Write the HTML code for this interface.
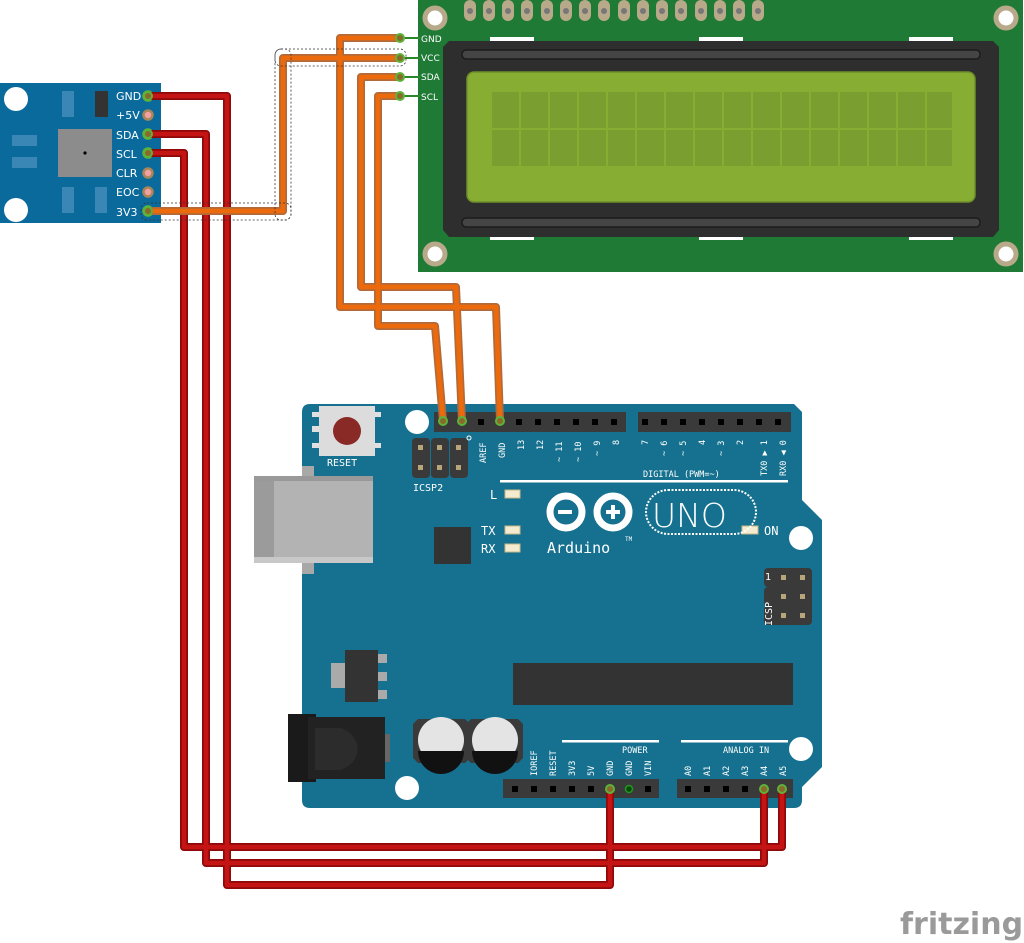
<!DOCTYPE html>
<html><head><meta charset="utf-8"><style>
html,body{margin:0;padding:0;background:#fff;}
svg{display:block;}
text{font-family:"DejaVu Sans Mono","Liberation Mono",monospace;}
.s{font-family:"DejaVu Sans","Liberation Sans",sans-serif;}
</style></head><body>
<svg width="1024" height="943" viewBox="0 0 1024 943" xmlns="http://www.w3.org/2000/svg">
<!-- LCD -->
<rect x="418" y="0" width="605" height="272" fill="#1f7a35"/>
<g fill="#b7a98a">
<rect x="464" y="0" width="12" height="21" rx="6"/><rect x="483" y="0" width="12" height="21" rx="6"/><rect x="502" y="0" width="12" height="21" rx="6"/><rect x="521" y="0" width="12" height="21" rx="6"/><rect x="541" y="0" width="12" height="21" rx="6"/><rect x="560" y="0" width="12" height="21" rx="6"/><rect x="579" y="0" width="12" height="21" rx="6"/><rect x="598" y="0" width="12" height="21" rx="6"/><rect x="618" y="0" width="12" height="21" rx="6"/><rect x="637" y="0" width="12" height="21" rx="6"/><rect x="656" y="0" width="12" height="21" rx="6"/><rect x="675" y="0" width="12" height="21" rx="6"/><rect x="695" y="0" width="12" height="21" rx="6"/><rect x="714" y="0" width="12" height="21" rx="6"/><rect x="733" y="0" width="12" height="21" rx="6"/><rect x="752" y="0" width="12" height="21" rx="6"/>
</g>
<g fill="#777"><circle cx="470" cy="11" r="3"/><circle cx="489" cy="11" r="3"/><circle cx="508" cy="11" r="3"/><circle cx="527" cy="11" r="3"/><circle cx="547" cy="11" r="3"/><circle cx="566" cy="11" r="3"/><circle cx="585" cy="11" r="3"/><circle cx="604" cy="11" r="3"/><circle cx="624" cy="11" r="3"/><circle cx="643" cy="11" r="3"/><circle cx="662" cy="11" r="3"/><circle cx="681" cy="11" r="3"/><circle cx="701" cy="11" r="3"/><circle cx="720" cy="11" r="3"/><circle cx="739" cy="11" r="3"/><circle cx="758" cy="11" r="3"/></g>
<g fill="#fff" stroke="#b7a98a" stroke-width="5"><circle cx="435" cy="18" r="10"/><circle cx="1006" cy="18" r="10"/><circle cx="435" cy="254" r="10"/><circle cx="1006" cy="254" r="10"/></g>
<g fill="#fff"><rect x="490" y="37" width="44" height="4"/><rect x="699" y="37" width="44" height="4"/><rect x="909" y="37" width="44" height="4"/><rect x="490" y="236" width="44" height="4"/><rect x="699" y="236" width="44" height="4"/><rect x="909" y="236" width="44" height="4"/></g>
<path d="M449,41 H993 L999,47 V230 L993,237 H449 L443,230 V47 Z" fill="#2e2e2e"/>
<rect x="462" y="50" width="518" height="9" rx="4" fill="#454545" stroke="#1c1c1c" stroke-width="1.5"/>
<rect x="462" y="218" width="518" height="9" rx="4" fill="#454545" stroke="#1c1c1c" stroke-width="1.5"/>
<rect x="467" y="72" width="508" height="130" rx="7" fill="#88ad33" stroke="#6f8f28" stroke-width="1.5"/>
<g fill="#7a9e30">
<rect x="492" y="92" width="27" height="36"/><rect x="521" y="92" width="27" height="36"/><rect x="550" y="92" width="27" height="36"/><rect x="579" y="92" width="27" height="36"/><rect x="608" y="92" width="27" height="36"/><rect x="637" y="92" width="27" height="36"/><rect x="666" y="92" width="27" height="36"/><rect x="695" y="92" width="27" height="36"/><rect x="724" y="92" width="27" height="36"/><rect x="753" y="92" width="27" height="36"/><rect x="782" y="92" width="27" height="36"/><rect x="811" y="92" width="27" height="36"/><rect x="840" y="92" width="27" height="36"/><rect x="869" y="92" width="27" height="36"/><rect x="898" y="92" width="27" height="36"/><rect x="927" y="92" width="25" height="36"/>
<rect x="492" y="130" width="27" height="36"/><rect x="521" y="130" width="27" height="36"/><rect x="550" y="130" width="27" height="36"/><rect x="579" y="130" width="27" height="36"/><rect x="608" y="130" width="27" height="36"/><rect x="637" y="130" width="27" height="36"/><rect x="666" y="130" width="27" height="36"/><rect x="695" y="130" width="27" height="36"/><rect x="724" y="130" width="27" height="36"/><rect x="753" y="130" width="27" height="36"/><rect x="782" y="130" width="27" height="36"/><rect x="811" y="130" width="27" height="36"/><rect x="840" y="130" width="27" height="36"/><rect x="869" y="130" width="27" height="36"/><rect x="898" y="130" width="27" height="36"/><rect x="927" y="130" width="25" height="36"/>
</g>
<g fill="#fff" font-size="9" class="s"><text x="421" y="42" class="s">GND</text><text x="421" y="61" class="s">VCC</text><text x="421" y="80" class="s">SDA</text><text x="421" y="100" class="s">SCL</text></g>
<g stroke="#2a8a2a" stroke-width="2"><line x1="400" y1="38" x2="420" y2="38"/><line x1="400" y1="58" x2="420" y2="58"/><line x1="400" y1="77" x2="420" y2="77"/><line x1="400" y1="96" x2="420" y2="96"/></g>

<!-- Sensor -->
<rect x="0" y="83" width="161" height="140" fill="#0b6a9c"/>
<circle cx="16" cy="99" r="12" fill="#fff"/><circle cx="16" cy="210" r="12" fill="#fff"/>
<g fill="#3a86b4"><rect x="62" y="91" width="12" height="26"/><rect x="12" y="135" width="25" height="11"/><rect x="12" y="157" width="25" height="11"/><rect x="62" y="187" width="12" height="26"/><rect x="95" y="187" width="12" height="26"/></g>
<rect x="95" y="91" width="13" height="26" fill="#333"/>
<rect x="58" y="129" width="54" height="48" fill="#8c8c8c"/><circle cx="85" cy="153" r="1.6" fill="#000"/>
<g fill="#fff" font-size="11" class="s"><text x="116" y="100" class="s">GND</text><text x="116" y="119" class="s">+5V</text><text x="116" y="139" class="s">SDA</text><text x="116" y="158" class="s">SCL</text><text x="116" y="177" class="s">CLR</text><text x="116" y="196" class="s">EOC</text><text x="116" y="216" class="s">3V3</text></g>
<g stroke="#a8865a" stroke-width="2.5" fill="#f4a0a0"><circle cx="148" cy="115" r="4.5"/><circle cx="148" cy="173" r="4.5"/><circle cx="148" cy="192" r="4.5"/></g>
<g stroke="#5db33a" stroke-width="2.5" fill="#8a6a2a"><circle cx="148" cy="96" r="4.5"/><circle cx="148" cy="134" r="4.5"/><circle cx="148" cy="153" r="4.5"/><circle cx="148" cy="211" r="4.5"/></g>

<!-- Arduino board -->
<path d="M310,404 H794 L802,412 V500 L822,520 V767 L802,787 V800 Q802,808 794,808 H310 Q302,808 302,800 V412 Q302,404 310,404 Z" fill="#15718f"/>
<rect x="302" y="466" width="0" height="0"/>
<!-- USB -->
<rect x="302" y="466" width="12" height="108" fill="#a8a8a8"/>
<rect x="254" y="476" width="119" height="87" fill="#b3b3b3"/>
<rect x="254" y="476" width="20" height="87" fill="#9b9b9b"/>
<rect x="254" y="476" width="119" height="5" fill="#999"/>
<rect x="254" y="557" width="119" height="6" fill="#c8c8c8"/>
<!-- reset -->
<g fill="#e0e0e0"><rect x="312" y="412" width="8" height="5"/><rect x="312" y="426" width="8" height="6"/><rect x="312" y="443" width="8" height="5"/><rect x="373" y="412" width="8" height="5"/><rect x="373" y="443" width="8" height="5"/></g>
<rect x="319" y="406" width="56" height="50" fill="#dcdcdc"/>
<circle cx="347" cy="431" r="14" fill="#8a2a26"/>
<text x="327" y="466" fill="#fff" font-size="10">RESET</text>
<circle cx="417" cy="422" r="12" fill="#fff"/>
<!-- ICSP2 -->
<g fill="#3a3a3a"><rect x="412" y="438" width="18" height="40" rx="4"/><rect x="431" y="438" width="18" height="40" rx="4"/><rect x="450" y="438" width="18" height="40" rx="4"/></g>
<g fill="#b8a57a"><rect x="418" y="445" width="5" height="5"/><rect x="437" y="445" width="5" height="5"/><rect x="456" y="445" width="5" height="5"/><rect x="418" y="465" width="5" height="5"/><rect x="437" y="465" width="5" height="5"/><rect x="456" y="465" width="5" height="5"/></g>
<text x="413" y="491" fill="#fff" font-size="10">ICSP2</text>
<circle cx="469" cy="438" r="2" fill="none" stroke="#fff" stroke-width="1"/>
<!-- top headers -->
<rect x="434" y="412" width="192" height="20" fill="#3a3a3a"/>
<rect x="638" y="412" width="153" height="20" fill="#3a3a3a"/>
<g fill="#000">
<rect x="440" y="419" width="6" height="6"/><rect x="459" y="419" width="6" height="6"/><rect x="478" y="419" width="6" height="6"/><rect x="497" y="419" width="6" height="6"/><rect x="516" y="419" width="6" height="6"/><rect x="535" y="419" width="6" height="6"/><rect x="554" y="419" width="6" height="6"/><rect x="573" y="419" width="6" height="6"/><rect x="592" y="419" width="6" height="6"/><rect x="611" y="419" width="6" height="6"/>
<rect x="642" y="419" width="6" height="6"/><rect x="661" y="419" width="6" height="6"/><rect x="680" y="419" width="6" height="6"/><rect x="699" y="419" width="6" height="6"/><rect x="718" y="419" width="6" height="6"/><rect x="737" y="419" width="6" height="6"/><rect x="756" y="419" width="6" height="6"/><rect x="775" y="419" width="6" height="6"/>
</g>
<g fill="#fff" font-size="8.5">
<text transform="translate(486,463) rotate(-90)">AREF</text>
<text transform="translate(505,458) rotate(-90)">GND</text>
<text transform="translate(524,450) rotate(-90)">13</text>
<text transform="translate(543,450) rotate(-90)">12</text>
<text transform="translate(562,462) rotate(-90)">~ 11</text>
<text transform="translate(581,462) rotate(-90)">~ 10</text>
<text transform="translate(600,456) rotate(-90)">~ 9</text>
<text transform="translate(619,445) rotate(-90)">8</text>
<text transform="translate(648,445) rotate(-90)">7</text>
<text transform="translate(667,456) rotate(-90)">~ 6</text>
<text transform="translate(686,456) rotate(-90)">~ 5</text>
<text transform="translate(705,445) rotate(-90)">4</text>
<text transform="translate(724,456) rotate(-90)">~ 3</text>
<text transform="translate(743,445) rotate(-90)">2</text>
<text transform="translate(767,476) rotate(-90)">TX0 ▶ 1</text>
<text transform="translate(786,476) rotate(-90)">RX0 ◀ 0</text>
<text x="643" y="477">DIGITAL (PWM=~)</text>
</g>
<rect x="500" y="480" width="288" height="2.5" fill="#fff"/>
<!-- LEDs -->
<g fill="#f4ecd0" stroke="#c8b88a"><rect x="505" y="490" width="15" height="8"/><rect x="505" y="526" width="15" height="8"/><rect x="505" y="544" width="15" height="8"/><rect x="742" y="526" width="16" height="8"/></g>
<g fill="#fff" font-size="12"><text x="490" y="499">L</text><text x="481" y="535">TX</text><text x="481" y="553">RX</text><text x="764" y="535">ON</text></g>
<rect x="434" y="527" width="37" height="37" fill="#333"/>
<!-- logo -->
<g fill="none" stroke="#fff" stroke-width="7"><circle cx="566" cy="512" r="16"/><circle cx="613" cy="512" r="16"/></g>
<rect x="558" y="510" width="14" height="4" fill="#fff"/>
<rect x="606" y="510" width="14" height="4" fill="#fff"/><rect x="611" y="505" width="4" height="14" fill="#fff"/>
<rect x="646" y="490" width="110" height="44" rx="22" fill="none" stroke="#fff" stroke-width="2" stroke-dasharray="2 1.5"/>
<text x="652" y="527" fill="#fff" font-size="33" class="s" font-weight="300">UNO</text>
<text x="547" y="553" fill="#fff" font-size="15">Arduino</text><text x="625" y="541" fill="#fff" font-size="6">TM</text>
<circle cx="801" cy="538" r="12" fill="#fff"/>
<!-- ICSP right -->
<g fill="#3a3a3a"><rect x="764" y="568" width="38" height="19" rx="4"/><rect x="764" y="587" width="38" height="19" rx="4"/><rect x="764" y="606" width="38" height="19" rx="4"/></g>
<g fill="#b8a57a"><rect x="781" y="575" width="5" height="5"/><rect x="800" y="575" width="5" height="5"/><rect x="781" y="594" width="5" height="5"/><rect x="800" y="594" width="5" height="5"/><rect x="781" y="613" width="5" height="5"/><rect x="800" y="613" width="5" height="5"/></g>
<g fill="#3a3a3a"><rect x="774" y="568" width="38" height="57" rx="4"/></g>
<g fill="#b8a57a"><rect x="781" y="575" width="5" height="5"/><rect x="800" y="575" width="5" height="5"/><rect x="781" y="594" width="5" height="5"/><rect x="800" y="594" width="5" height="5"/><rect x="781" y="613" width="5" height="5"/><rect x="800" y="613" width="5" height="5"/></g>
<text x="765" y="580" fill="#fff" font-size="10">1</text>
<text transform="translate(772,626) rotate(-90)" fill="#fff" font-size="10">ICSP</text>
<!-- chip -->
<rect x="513" y="663" width="280" height="42" fill="#333"/>
<!-- regulator -->
<rect x="331" y="663" width="15" height="25" fill="#aaa"/>
<g fill="#aaa"><rect x="375" y="654" width="12" height="9"/><rect x="375" y="672" width="12" height="9"/><rect x="375" y="690" width="12" height="9"/></g>
<rect x="345" y="650" width="33" height="52" fill="#333"/>
<!-- jack -->
<rect x="288" y="714" width="28" height="68" fill="#1a1a1a"/>
<rect x="308" y="717" width="77" height="62" fill="#222"/>
<path d="M315,728 H340 A25,22 0 0 1 340,770 H315 Z" fill="#2c2c2c"/>
<rect x="385" y="734" width="5" height="28" fill="#666"/>
<!-- caps -->
<path d="M418,719 H465 L470,724 V758 L465,763 H418 L413,758 V724 Z" fill="#3a3a3a"/>
<path d="M471,719 H518 L523,724 V758 L518,763 H471 L466,758 V724 Z" fill="#3a3a3a"/>
<circle cx="441" cy="740" r="23" fill="#e4e4e4"/><circle cx="495" cy="740" r="23" fill="#e4e4e4"/>
<path d="M418,751 H464 A23,23 0 0 1 418,751 Z" fill="#111"/>
<path d="M472,751 H518 A23,23 0 0 1 472,751 Z" fill="#111"/>
<!-- bottom -->
<rect x="562" y="740" width="97" height="2.5" fill="#fff"/>
<rect x="681" y="740" width="107" height="2.5" fill="#fff"/>
<circle cx="801" cy="749" r="12" fill="#fff"/>
<circle cx="407" cy="788" r="12" fill="#fff"/>
<g fill="#fff" font-size="8.5">
<text x="622" y="753">POWER</text><text x="723" y="753">ANALOG IN</text>
<text transform="translate(537,776) rotate(-90)">IOREF</text>
<text transform="translate(556,776) rotate(-90)">RESET</text>
<text transform="translate(575,776) rotate(-90)">3V3</text>
<text transform="translate(594,776) rotate(-90)">5V</text>
<text transform="translate(613,776) rotate(-90)">GND</text>
<text transform="translate(632,776) rotate(-90)">GND</text>
<text transform="translate(651,776) rotate(-90)">VIN</text>
<text transform="translate(691,776) rotate(-90)">A0</text>
<text transform="translate(710,776) rotate(-90)">A1</text>
<text transform="translate(729,776) rotate(-90)">A2</text>
<text transform="translate(748,776) rotate(-90)">A3</text>
<text transform="translate(767,776) rotate(-90)">A4</text>
<text transform="translate(786,776) rotate(-90)">A5</text>
</g>
<rect x="503" y="779" width="156" height="19" fill="#3a3a3a"/>
<rect x="677" y="779" width="116" height="19" fill="#3a3a3a"/>
<g fill="#000">
<rect x="512" y="786" width="6" height="6"/><rect x="531" y="786" width="6" height="6"/><rect x="550" y="786" width="6" height="6"/><rect x="569" y="786" width="6" height="6"/><rect x="588" y="786" width="6" height="6"/><rect x="645" y="786" width="6" height="6"/>
<rect x="685" y="786" width="6" height="6"/><rect x="704" y="786" width="6" height="6"/><rect x="723" y="786" width="6" height="6"/><rect x="742" y="786" width="6" height="6"/>
</g>
<circle cx="629" cy="789" r="3.5" fill="#0a4a0a" stroke="#1f9a1f" stroke-width="1.5"/>

<!-- red wires -->
<g fill="none" stroke-linejoin="round" stroke-linecap="round">
<g stroke="#8e0a0a" stroke-width="8">
<polyline points="148,96 227,96 227,885 610,885 610,789"/>
<polyline points="148,134 206,134 206,863 764,863 764,789"/>
<polyline points="148,153 184,153 184,847 782,847 782,789"/>
</g>
<g stroke="#c41414" stroke-width="4.5">
<polyline points="148,96 227,96 227,885 610,885 610,789"/>
<polyline points="148,134 206,134 206,863 764,863 764,789"/>
<polyline points="148,153 184,153 184,847 782,847 782,789"/>
</g>
<!-- orange wires -->
<g stroke="#b36a3a" stroke-width="8">
<polyline points="148,211 283,211 283,58 400,58"/>
<polyline points="400,38 340,38 340,307 496,307 500,421"/>
<polyline points="400,77 361,77 361,287 456,287 462,421"/>
<polyline points="400,96 378,96 378,326 435,326 443,421"/>
</g>
<g stroke="#ec6a0c" stroke-width="4.5">
<polyline points="148,211 283,211 283,58 400,58"/>
<polyline points="400,38 340,38 340,307 496,307 500,421"/>
<polyline points="400,77 361,77 361,287 456,287 462,421"/>
<polyline points="400,96 378,96 378,326 435,326 443,421"/>
</g>
</g>
<g fill="#8a6a2a" stroke="#5db33a" stroke-width="2">
<circle cx="148" cy="96" r="4"/><circle cx="148" cy="134" r="4"/><circle cx="148" cy="153" r="4"/><circle cx="148" cy="211" r="4"/>
<circle cx="400" cy="38" r="4"/><circle cx="400" cy="58" r="4"/><circle cx="400" cy="77" r="4"/><circle cx="400" cy="96" r="4"/>
<circle cx="443" cy="421" r="4"/><circle cx="462" cy="421" r="4"/><circle cx="500" cy="421" r="4"/>
<circle cx="610" cy="789" r="4"/><circle cx="764" cy="789" r="4"/><circle cx="782" cy="789" r="4"/>
</g>
<!-- selection dashes -->
<g fill="none" stroke="#333" stroke-width="0.8" stroke-dasharray="2 2">
<rect x="141" y="203" width="150" height="17" rx="6"/>
<rect x="275" y="49" width="131" height="17" rx="6"/>
<rect x="275" y="49" width="16" height="171" rx="6"/>
</g>
<!-- fritzing -->
<text x="900" y="934" fill="#9a9a9a" font-size="30" class="s" font-weight="bold">fritzing</text>
</svg>
</body></html>
